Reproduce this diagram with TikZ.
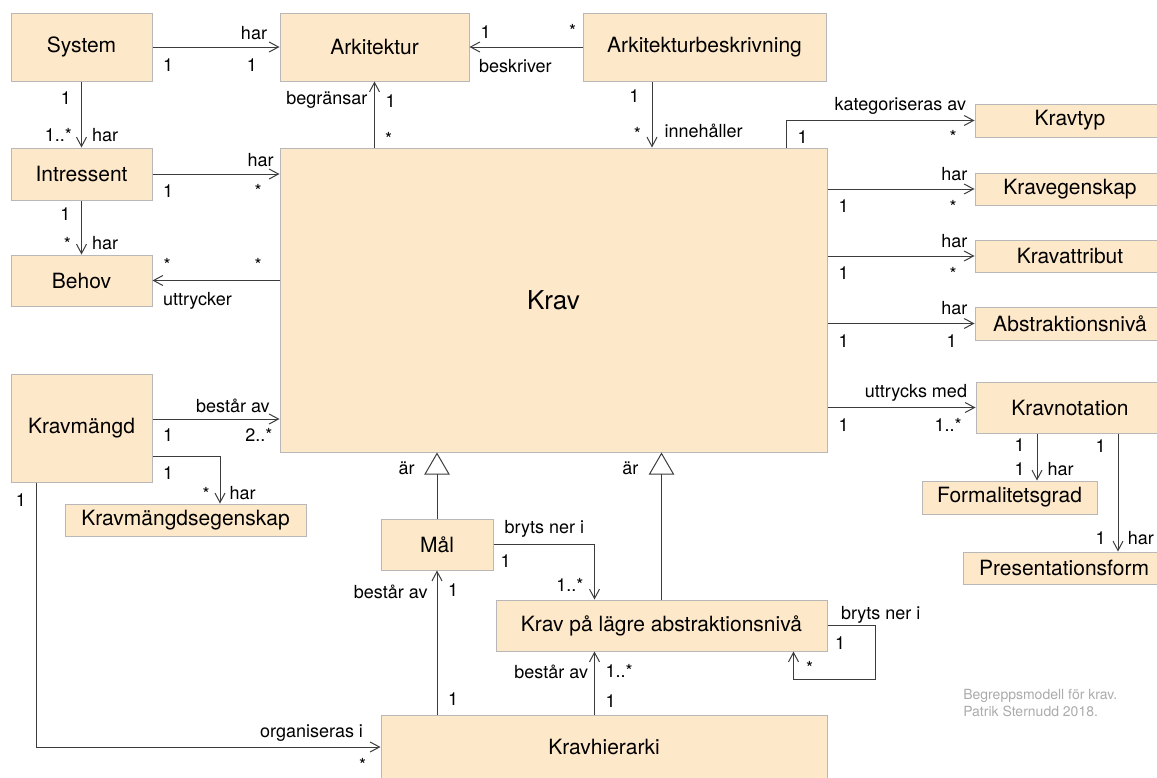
\documentclass[tikz,border=0pt]{standalone}
\usepackage{fontspec}
\setmainfont{TeX Gyre Heros}
\usetikzlibrary{arrows.meta, calc}
\definecolor{ruta}{HTML}{FEE8CA}
\definecolor{ram}{HTML}{B8B8B8}
\definecolor{linje}{HTML}{3C3C3C}
\definecolor{signgra}{HTML}{ABABAB}

\begin{document}
\begin{tikzpicture}[x=0.75pt, y=-0.75pt,
    entity/.style 2 args={draw=ram, fill=ruta, line width=0.75pt, inner sep=0pt,
      minimum width=#1*0.75pt, minimum height=#2*0.75pt,
      font=\fontsize{15.75}{18}\selectfont},
    lbl/.style={inner sep=0pt, font=\fontsize{13.5}{15}\selectfont},
    signatur/.style={inner sep=0pt, align=left, text=signgra,
      font=\fontsize{10.5}{12.75}\selectfont},
    assoc/.style={draw=linje, line width=0.75pt, -{Straight Barb[length=7pt, width=7.5pt]}},
    isa/.style={draw=linje, line width=0.75pt, -{Triangle[open, length=16.5pt, width=19pt]}}]
  \useasboundingbox (0,0) rectangle (1157,778);

  % klasser
  \node[entity={141}{68}] (system) at (81.5,47) {System};
  \node[entity={189}{68}] (ark) at (374.5,47) {Arkitektur};
  \node[entity={243}{68}] (arkbeskr) at (704.5,47) {Arkitekturbeskrivning};
  \node[entity={141}{52}] (intressent) at (81.5,174) {Intressent};
  \node[entity={141}{51}] (behov) at (81.5,280.5) {Behov};
  \node[entity={547}{304}, font=\fontsize{19.5}{22}\selectfont] (krav) at (553.5,300) {Krav};
  \node[entity={190}{33}] (kravtyp) at (1070,120.5) {Kravtyp};
  \node[entity={190}{32}] (kravegenskap) at (1070,189) {Kravegenskap};
  \node[entity={190}{32}] (kravattribut) at (1070,256) {Kravattribut};
  \node[entity={190}{33}] (abstrniva) at (1070,323.5) {Abstraktionsnivå};
  \node[entity={188}{51}] (kravnotation) at (1070,407.5) {Kravnotation};
  \node[entity={175}{33}] (formalitet) at (1009.5,497.5) {Formalitetsgrad};
  \node[entity={202}{32}] (presentation) at (1064,568) {Presentationsform};
  \node[entity={141}{108}] (kravmangd) at (81.5,428) {Kravmängd};
  \node[entity={241}{32}] (kmegenskap) at (185.5,520) {Kravmängdsegenskap};
  \node[entity={112}{51}] (mal) at (437,544.5) {Mål};
  \node[entity={331}{51}] (kravlagre) at (661.5,625.5) {Krav på lägre abstraktionsnivå};
  \node[entity={446}{64}] (hierarki) at (604,747) {Kravhierarki};

  \coordinate (ab) at ($(arkbeskr.south)+(-52.5,0)$);
  \coordinate (kt) at ($(krav.north east)+(-41,0)$);
  \coordinate (bv) at ($(kravmangd.east)+(0,-9)$);
  \coordinate (fg) at ($(formalitet.north)+(27.5,0)$);
  \coordinate (pf) at ($(presentation.north)+(54,0)$);
  \coordinate (kb) at ($(kravlagre.south west)+(99,0)$);

  % associationer
  \draw[assoc] (system.east) -- (ark.west)
    node[lbl, at end, anchor=base east, xshift=-9pt, yshift=6pt] {har}
    node[lbl, at start, anchor=north west, xshift=7.5pt, yshift=-8.5pt] {1}
    node[lbl, at end, anchor=north east, xshift=-16.5pt, yshift=-8.5pt] {1};
  \draw[assoc] (arkbeskr.west) -- (ark.east)
    node[lbl, at end, anchor=base west, xshift=8pt, yshift=6.75pt] {1}
    node[lbl, at start, anchor=base east, xshift=-4.5pt, yshift=7.5pt] {*}
    node[lbl, at end, anchor=north west, xshift=6.75pt, yshift=-9pt] {beskriver};
  \draw[assoc] (krav.north -| ark.south) -- (ark.south)
    node[lbl, at end, anchor=north east, xshift=-5pt, yshift=-6.75pt] {begränsar}
    node[lbl, at end, anchor=north west, xshift=8pt, yshift=-9.75pt] {1}
    node[lbl, at start, anchor=base west, xshift=7.5pt, yshift=1.5pt] {*};
  \draw[assoc] (ab) -- (ab |- krav.north)
    node[lbl, at start, anchor=north east, xshift=-9pt, yshift=-6pt] {1}
    node[lbl, at end, anchor=base east, xshift=-8pt, yshift=5.5pt] {*}
    node[lbl, at end, anchor=base west, xshift=9pt, yshift=7.5pt] {innehåller};
  \draw[assoc] (system.south) -- (intressent.north)
    node[lbl, at start, anchor=north east, xshift=-7.5pt, yshift=-7.5pt] {1}
    node[lbl, at end, anchor=base east, xshift=-6.75pt, yshift=4.5pt] {1..*}
    node[lbl, at end, anchor=base west, xshift=7.5pt, yshift=4.5pt] {har};
  \draw[assoc] (intressent.east) -- (intressent.east -| krav.west)
    node[lbl, at end, anchor=base east, xshift=-4pt, yshift=6pt] {har}
    node[lbl, at start, anchor=north west, xshift=7.5pt, yshift=-7.5pt] {1}
    node[lbl, at end, anchor=north east, xshift=-13pt, yshift=-7.5pt] {*};
  \draw[assoc] (intressent.south) -- (behov.north)
    node[lbl, at start, anchor=north east, xshift=-8pt, yshift=-5pt] {1}
    node[lbl, at end, anchor=base east, xshift=-7.5pt, yshift=3pt] {*}
    node[lbl, at end, anchor=base west, xshift=7.5pt, yshift=3.75pt] {har};
  \draw[assoc] (behov.east -| krav.west) -- (behov.east)
    node[lbl, at start, anchor=base east, xshift=-13pt, yshift=6.75pt] {*}
    node[lbl, at end, anchor=base west, xshift=8pt, yshift=6.75pt] {*}
    node[lbl, at end, anchor=north west, xshift=7.5pt, yshift=-8.25pt] {uttrycker};

  % höger sida
  \draw[assoc] (kt) -- (kt |- kravtyp.west) -- (kravtyp.west)
    node[lbl, at end, anchor=base east, xshift=-6pt, yshift=7.5pt] {kategoriseras av}
    node[lbl, at start, anchor=north west, xshift=8pt, yshift=-7pt] {1}
    node[lbl, at end, anchor=north east, xshift=-13pt, yshift=-7pt] {*};
  \foreach \dst/\mult in {kravegenskap/*, kravattribut/*, abstrniva/1}
    \draw[assoc] (\dst.west -| krav.east) -- (\dst.west)
      node[lbl, at end, anchor=base east, xshift=-5pt, yshift=6.75pt] {har}
      node[lbl, at start, anchor=north west, xshift=8pt, yshift=-8pt] {1}
      node[lbl, at end, anchor=north east, xshift=-13pt, yshift=-8pt] {\mult};
  \draw[assoc] (kravnotation.west -| krav.east) -- (kravnotation.west)
    node[lbl, at end, anchor=base east, xshift=-6pt, yshift=7.5pt] {uttrycks med}
    node[lbl, at start, anchor=north west, xshift=8pt, yshift=-8pt] {1}
    node[lbl, at end, anchor=north east, xshift=-10pt, yshift=-8pt] {1..*};
  \draw[assoc] (fg |- kravnotation.south) -- (fg)
    node[lbl, at start, anchor=north east, xshift=-9pt, yshift=-3.75pt] {1}
    node[lbl, at end, anchor=base east, xshift=-9pt, yshift=3.75pt] {1}
    node[lbl, at end, anchor=base west, xshift=7.5pt, yshift=3.75pt] {har};
  \draw[assoc] (pf |- kravnotation.south) -- (pf)
    node[lbl, at start, anchor=north east, xshift=-9pt, yshift=-4.5pt] {1}
    node[lbl, at end, anchor=base east, xshift=-9pt, yshift=5pt] {1}
    node[lbl, at end, anchor=base west, xshift=7pt, yshift=5pt] {har};

  % kravmängd
  \draw[assoc] (bv) -- (bv -| krav.west)
    node[lbl, at end, anchor=base east, xshift=-7pt, yshift=5pt] {består av}
    node[lbl, at start, anchor=north west, xshift=7.5pt, yshift=-7pt] {1}
    node[lbl, at end, anchor=north east, xshift=-5pt, yshift=-7pt] {2..*};
  \draw[assoc] ($(kravmangd.south east)+(0,-26)$) -| ($(kmegenskap.north)+(34.5,0)$)
    node[lbl, at start, anchor=north west, xshift=7.5pt, yshift=-7.5pt] {1}
    node[lbl, at end, anchor=base east, xshift=-7.5pt, yshift=2.25pt] {*}
    node[lbl, at end, anchor=base west, xshift=6.75pt, yshift=3pt] {har};
  \draw[assoc] ($(kravmangd.south west)+(26,0)$) |- (hierarki.west)
    node[lbl, at start, anchor=north east, xshift=-7.5pt, yshift=-8.25pt] {1}
    node[lbl, at end, anchor=base east, xshift=-12.75pt, yshift=7.5pt] {organiseras i}
    node[lbl, at end, anchor=north east, xshift=-10.5pt, yshift=-8.25pt] {*};

  % hierarki
  \draw[assoc] (mal.east) -| (kb |- kravlagre.north)
    node[lbl, at start, anchor=base west, xshift=8pt, yshift=8pt] {bryts ner i}
    node[lbl, at start, anchor=north west, xshift=5pt, yshift=-7.5pt] {1}
    node[lbl, at end, anchor=base east, xshift=-8pt, yshift=6pt] {1..*};
  \draw[assoc] (hierarki.north -| mal.south) -- (mal.south)
    node[lbl, at end, anchor=north east, xshift=-6.75pt, yshift=-10.5pt] {består av}
    node[lbl, at end, anchor=north west, xshift=8pt, yshift=-9.75pt] {1}
    node[lbl, at start, anchor=base west, xshift=8pt, yshift=6.75pt] {1};
  \draw[assoc] (hierarki.north -| kb) -- (kb)
    node[lbl, at end, anchor=north east, xshift=-4.5pt, yshift=-9.75pt] {består av}
    node[lbl, at end, anchor=north west, xshift=8pt, yshift=-9pt] {1..*}
    node[lbl, at start, anchor=base west, xshift=8pt, yshift=5.25pt] {1};
  \draw[assoc] (kravlagre.east) -- ++(48,0)
      node[lbl, at start, anchor=base west, xshift=9.75pt, yshift=4.5pt] {bryts ner i}
      node[lbl, at start, anchor=north west, xshift=5.25pt, yshift=-8.25pt] {1}
    |- ($(kravlagre.south east)+(-34,28)$) -- ($(kravlagre.south east)+(-34,0)$)
      node[lbl, at end, anchor=north west, xshift=9pt, yshift=-6.75pt] {*};

  % generalisering
  \draw[isa] (mal.north) -- (mal.north |- krav.south)
    node[lbl, at end, anchor=east, xshift=-16.5pt, yshift=-12pt] {är};
  \draw[isa] (kravlagre.north) -- (kravlagre.north |- krav.south)
    node[lbl, at end, anchor=east, xshift=-17pt, yshift=-12pt] {är};

  \node[signatur, anchor=north west] (sign) at (963,689)
    {Begreppsmodell för krav.\\Patrik Sternudd 2018.};
\end{tikzpicture}
\end{document}
